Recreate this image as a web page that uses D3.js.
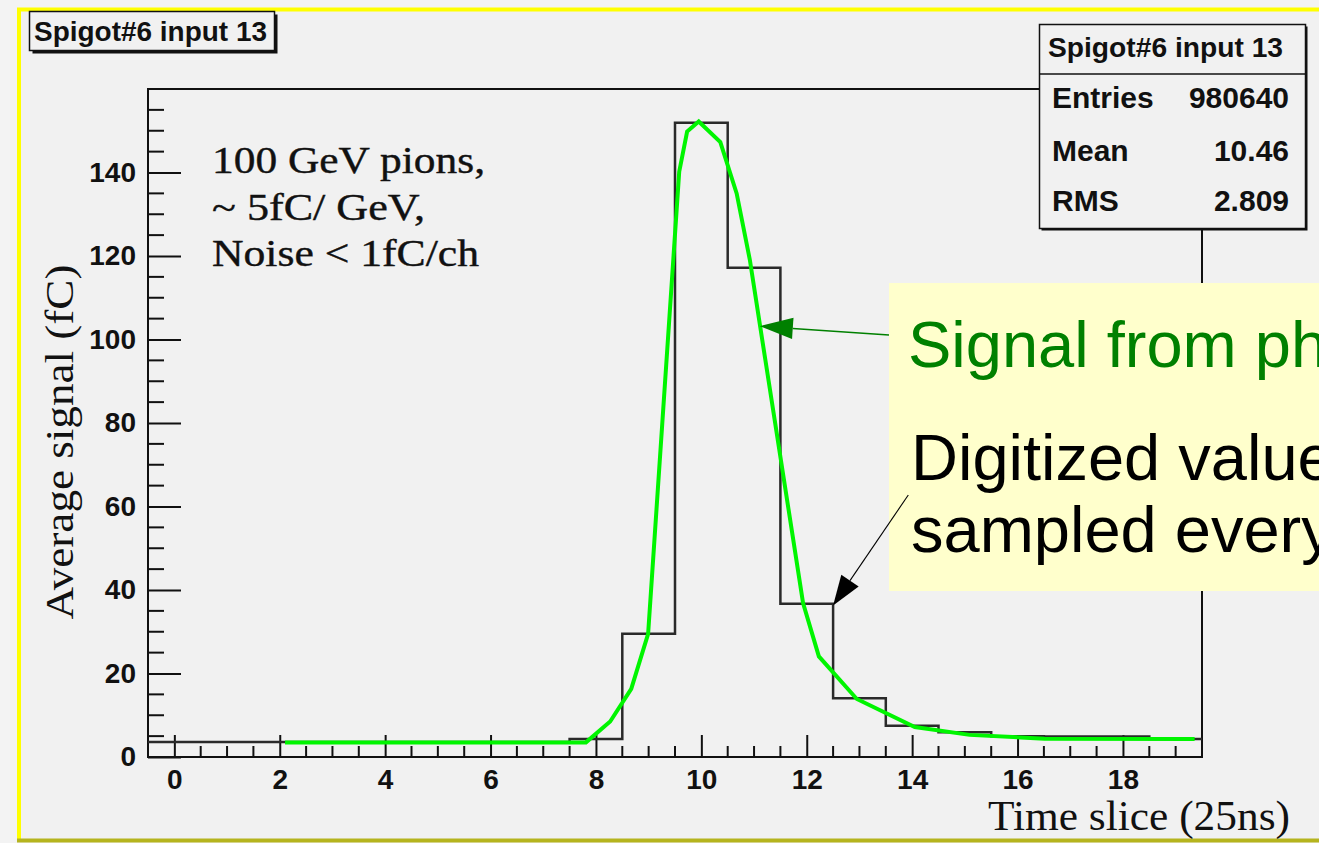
<!DOCTYPE html>
<html>
<head>
<meta charset="utf-8">
<script src="https://cdn.jsdelivr.net/npm/d3@7"></script>
<style>
  html, body { margin: 0; padding: 0; background: #f2f2f2; overflow: hidden; }
  svg { display: block; }
</style>
</head>
<body>
<svg id="chart" width="1319" height="843"></svg>
<script>
// ---------------- data ----------------
const binCenters = [0,1,2,3,4,5,6,7,8,9,10,11,12,13,14,15,16,17,18,19];
const digitizedValues = [3.6,3.6,3.6,3.6,3.6,3.6,3.6,3.6,4.3,29.5,151.9,117.2,36.7,14.1,7.5,5.9,5.0,4.9,4.9,4.3];
const pulseTime = [2.10,7.81,8.27,8.67,8.99,9.58,9.73,9.95,10.36,10.67,10.92,11.93,12.23,12.95,14.05,15.09,16.51,19.36];
const pulseSignal = [3.5,3.5,8.5,16.3,29.5,140.2,149.8,152.2,147.3,135.0,119.1,36.9,24.1,13.9,7.2,5.3,4.4,4.3];
const xMajorTicks = [0,2,4,6,8,10,12,14,16,18];
const yMajorTicks = [0,20,40,60,80,100,120,140];
const histTitle = "Spigot#6 input 13";
const statsLabels = ["Entries","Mean","RMS"];
const statsValues = ["980640","10.46","2.809"];
const noteLines = ["100 GeV pions,","~ 5fC/ GeV,","Noise < 1fC/ch"];
const xTitle = "Time slice (25ns)";
const yTitle = "Average signal (fC)";
const calloutGreen = "Signal from photodetector";
const calloutBlack = ["Digitized values,","sampled every 25 ns"];

// ---------------- setup ----------------
const svg = d3.select("#chart");
const W = 1319, H = 843;
const frame = {left:148, right:1202, top:89, bottom:757};
const x = d3.scaleLinear().domain([-0.5,19.5]).range([frame.left, frame.right]);
const y = d3.scaleLinear().domain([0,160]).range([frame.bottom, frame.top]);
const sansBold = "'Liberation Sans', Arial, Helvetica, sans-serif";
const serif = "'Liberation Serif', 'Times New Roman', serif";

// canvas background and bevel border
svg.append("rect").attr("x",0).attr("y",0).attr("width",W).attr("height",H).attr("fill","#f3f3f3");
svg.append("rect").attr("x",19).attr("y",10).attr("width",W).attr("height",830).attr("fill","#f1f1f1");
svg.append("line").attr("x1",17).attr("x2",W).attr("y1",9.5).attr("y2",9.5).attr("stroke","#ffff00").attr("stroke-width",4);
svg.append("line").attr("x1",19).attr("x2",19).attr("y1",8).attr("y2",841).attr("stroke","#ffff00").attr("stroke-width",4);
svg.append("line").attr("x1",17).attr("x2",W).attr("y1",840.5).attr("y2",840.5).attr("stroke","#b5b41e").attr("stroke-width",4);

// ---------------- axes ----------------
const gx = svg.append("g").attr("transform",`translate(0,${frame.bottom})`);
gx.call(d3.axisBottom(x).tickValues(xMajorTicks).tickSize(-22).tickPadding(12).tickFormat(d3.format("d")));
gx.select(".domain").remove();
gx.selectAll(".tick line").attr("stroke","#111").attr("stroke-width",2);
gx.selectAll(".tick text").attr("font-family",sansBold).attr("font-weight","bold").attr("font-size",28).attr("fill","#111");
const xMinor = d3.range(0, 19.5, 0.5).filter(v => !xMajorTicks.includes(v));
svg.append("g").selectAll("line").data(xMinor).join("line")
  .attr("x1",d=>x(d)).attr("x2",d=>x(d)).attr("y1",frame.bottom).attr("y2",frame.bottom-11)
  .attr("stroke","#111").attr("stroke-width",2);

const gy = svg.append("g").attr("transform",`translate(${frame.left},0)`);
gy.call(d3.axisLeft(y).tickValues(yMajorTicks).tickSize(-33).tickPadding(12).tickFormat(d3.format("d")));
gy.select(".domain").remove();
gy.selectAll(".tick line").attr("stroke","#111").attr("stroke-width",2);
gy.selectAll(".tick text").attr("font-family",sansBold).attr("font-weight","bold").attr("font-size",28).attr("fill","#111");
const yMinor = d3.range(5, 160, 5).filter(v => !yMajorTicks.includes(v));
svg.append("g").selectAll("line").data(yMinor).join("line")
  .attr("x1",frame.left).attr("x2",frame.left+16).attr("y1",d=>y(d)).attr("y2",d=>y(d))
  .attr("stroke","#111").attr("stroke-width",2);

// frame
svg.append("rect").attr("x",frame.left).attr("y",frame.top)
  .attr("width",frame.right-frame.left).attr("height",frame.bottom-frame.top)
  .attr("fill","none").attr("stroke","#111").attr("stroke-width",2);

// ---------------- histogram (step) ----------------
const stepPts = [];
binCenters.forEach((c,i) => {
  stepPts.push([c-0.5, digitizedValues[i]]);
  stepPts.push([c+0.5, digitizedValues[i]]);
});
svg.append("path")
  .attr("d", d3.line().x(d=>x(d[0])).y(d=>y(d[1]))(stepPts))
  .attr("fill","none").attr("stroke","#2a2a2a").attr("stroke-width",2.5);

// ---------------- pulse curve ----------------
svg.append("path")
  .attr("d", d3.line().x((d,i)=>x(pulseTime[i])).y((d,i)=>y(pulseSignal[i]))(pulseTime))
  .attr("fill","none").attr("stroke","#00f500").attr("stroke-width",4).attr("stroke-linejoin","miter");

// ---------------- text note ----------------
const noteWidths = [273,213,267];
noteLines.forEach((t,i) => {
  svg.append("text").attr("x",212).attr("y",173+i*46.7)
    .attr("font-family",serif).attr("font-size",37).attr("fill","#111")
    .attr("stroke","#111").attr("stroke-width",0.4)
    .attr("textLength",noteWidths[i]).attr("lengthAdjust","spacingAndGlyphs")
    .text(t);
});

// axis titles
svg.append("text").attr("x",1290).attr("y",830).attr("text-anchor","end")
  .attr("font-family",serif).attr("font-size",43).attr("fill","#111")
  .attr("textLength",302).attr("lengthAdjust","spacingAndGlyphs").text(xTitle);
svg.append("text").attr("transform","translate(73,442) rotate(-90)").attr("text-anchor","middle")
  .attr("font-family",serif).attr("font-size",39).attr("fill","#111")
  .attr("textLength",355).attr("lengthAdjust","spacingAndGlyphs").text(yTitle);

// ---------------- title box ----------------
svg.append("rect").attr("x",32.5).attr("y",14.5).attr("width",245).attr("height",39).attr("fill","#111");
svg.append("rect").attr("x",29.5).attr("y",11.5).attr("width",245).attr("height",39).attr("fill","#f1f1f1").attr("stroke","#111").attr("stroke-width",1.5);
svg.append("text").attr("x",34).attr("y",41).attr("font-family",sansBold).attr("font-weight","bold")
  .attr("font-size",28).attr("textLength",233).attr("lengthAdjust","spacingAndGlyphs").attr("fill","#111").text(histTitle);

// ---------------- stats box ----------------
svg.append("rect").attr("x",1041.5).attr("y",26.5).attr("width",266).attr("height",204).attr("fill","#111");
svg.append("rect").attr("x",1039.5).attr("y",24.5).attr("width",266).attr("height",204).attr("fill","#f1f1f1").attr("stroke","#111").attr("stroke-width",1.5);
svg.append("line").attr("x1",1039.5).attr("x2",1305.5).attr("y1",74).attr("y2",74).attr("stroke","#111").attr("stroke-width",1.5);
svg.append("text").attr("x",1048).attr("y",57).attr("font-family",sansBold).attr("font-weight","bold")
  .attr("font-size",28).attr("textLength",235).attr("lengthAdjust","spacingAndGlyphs").attr("fill","#111").text(histTitle);
const statsBase = [108,161,211];
statsLabels.forEach((l,i) => {
  svg.append("text").attr("x",1052).attr("y",statsBase[i]).attr("font-family",sansBold).attr("font-weight","bold")
    .attr("font-size",30).attr("fill","#111").text(l);
  svg.append("text").attr("x",1289).attr("y",statsBase[i]).attr("text-anchor","end").attr("font-family",sansBold).attr("font-weight","bold")
    .attr("font-size",30).attr("fill","#111").text(statsValues[i]);
});

// ---------------- callout box ----------------
svg.append("rect").attr("x",889).attr("y",283).attr("width",500).attr("height",308).attr("fill","#ffffcc");
svg.append("text").attr("x",908).attr("y",367).attr("font-family","'Liberation Sans', Arial, sans-serif")
  .attr("font-size",65).attr("fill","#008000").text(calloutGreen);
calloutBlack.forEach((t,i) => {
  svg.append("text").attr("x",911).attr("y",480+i*71.7).attr("font-family","'Liberation Sans', Arial, sans-serif")
    .attr("font-size",65).attr("fill","#000").text(t);
});

// arrows (tips anchored in data coordinates)
function arrow(tail, tipData, color, width, len, half) {
  const tip = [x(tipData[0]), y(tipData[1])];
  const dx = tip[0]-tail[0], dy = tip[1]-tail[1];
  const L = Math.hypot(dx,dy), ux = dx/L, uy = dy/L;
  const bx = tip[0]-ux*len, by = tip[1]-uy*len;
  svg.append("line").attr("x1",tail[0]).attr("y1",tail[1]).attr("x2",bx).attr("y2",by)
    .attr("stroke",color).attr("stroke-width",width);
  svg.append("polygon").attr("points",[
    [tip[0],tip[1]],
    [bx - uy*half, by + ux*half],
    [bx + uy*half, by - ux*half]
  ].map(p=>p.join(",")).join(" ")).attr("fill",color);
}
arrow([889,335], [11.11,103.2], "#008000", 1.5, 33, 10.7);
arrow([908.3,495], [12.5,36.3], "#000", 1.1, 30, 10.5);
</script>
</body>
</html>
